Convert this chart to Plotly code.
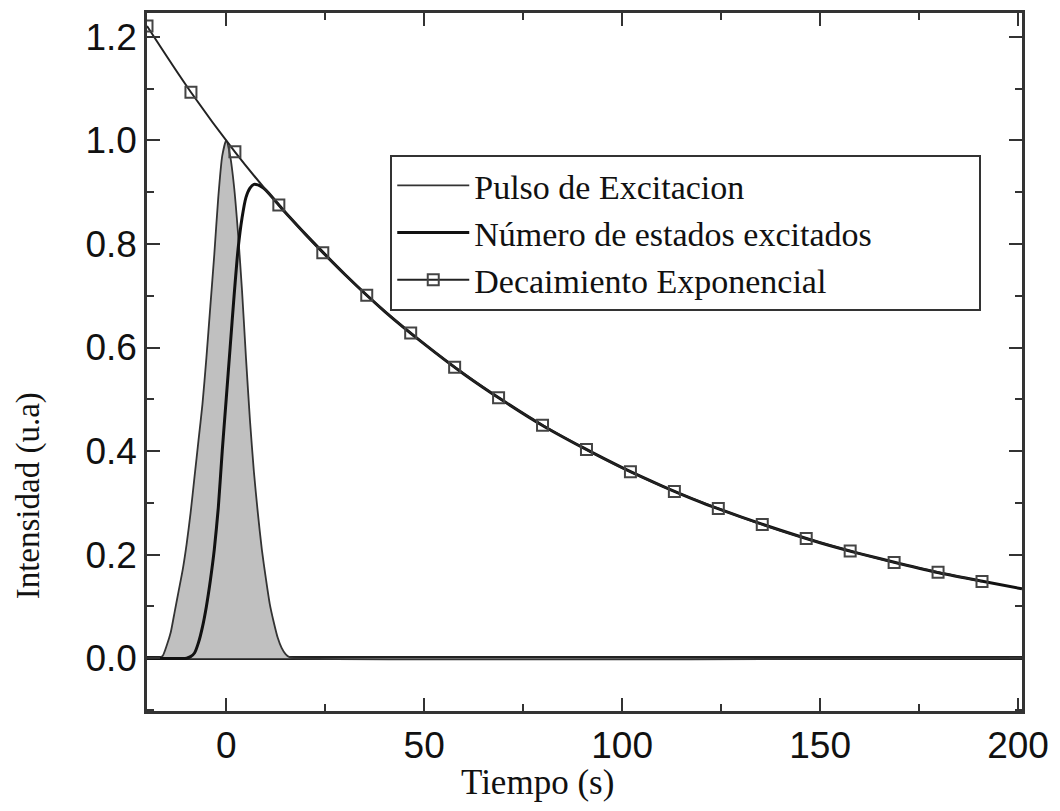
import plotly.graph_objects as go

# Pulse (excitation)
pulse_t = [-20, -17, -16, -15, -14, -13, -12, -11, -10, -9, -8, -7, -6, -5, -4, -3, -2, -1, 0,
           1, 2, 3, 4, 5, 6, 7, 8, 9, 10, 11, 12, 13, 14, 15, 16, 17, 201]
pulse_y = [0, 0, 0.005, 0.025, 0.05, 0.09, 0.13, 0.17, 0.22, 0.28, 0.35, 0.42, 0.49, 0.58, 0.68, 0.78, 0.89, 0.97, 1.0,
           0.97, 0.91, 0.82, 0.71, 0.58, 0.46, 0.36, 0.28, 0.21, 0.155, 0.105, 0.07, 0.04, 0.02, 0.008, 0.002, 0, 0]

# Number of excited states
states_t = [-20, -10, -9, -8, -7, -6, -5, -4, -3, -2, -1, 0, 1, 2, 3, 4, 5, 6, 7, 8, 9, 10, 12, 14, 16,
            20, 30, 40, 50, 60, 70, 80, 90, 100, 110, 120, 130, 140, 150, 160, 170, 180, 190, 201]
states_y = [0, 0, 0.003, 0.01, 0.03, 0.06, 0.1, 0.15, 0.21, 0.29, 0.4, 0.5, 0.6, 0.7, 0.79, 0.85, 0.89, 0.908,
            0.915, 0.914, 0.91, 0.904, 0.887, 0.869, 0.852,
            0.819, 0.741, 0.670, 0.607, 0.549, 0.497, 0.449, 0.407, 0.368, 0.333, 0.301, 0.273, 0.247, 0.223,
            0.202, 0.183, 0.165, 0.150, 0.134]

# Exponential decay with square markers
decay_t = [-20.0, -8.9, 2.2, 13.3, 24.4, 35.5, 46.6, 57.7, 68.8, 79.9, 91.0, 102.1, 113.2, 124.3, 135.4,
           146.5, 157.6, 168.7, 179.8, 190.9]
decay_y = [1.221, 1.093, 0.978, 0.875, 0.783, 0.701, 0.628, 0.562, 0.503, 0.450, 0.403, 0.360, 0.322,
           0.289, 0.258, 0.231, 0.207, 0.185, 0.166, 0.148]

x_ticks = [0, 50, 100, 150, 200]
y_ticks = [0.0, 0.2, 0.4, 0.6, 0.8, 1.0, 1.2]
y_labels = ["0.0", "0.2", "0.4", "0.6", "0.8", "1.0", "1.2"]

x_title = "Tiempo (s)"
y_title = "Intensidad (u.a)"

NBSP = "\u00a0"

fig = go.Figure()
# grey filled area under the pulse (no legend entry)
fig.add_trace(go.Scatter(x=pulse_t, y=pulse_y, mode="lines", showlegend=False, hoverinfo="skip",
                         line=dict(color="rgba(0,0,0,0)", width=0, shape="spline", smoothing=0.6),
                         fill="tozeroy", fillcolor="#c0c0c0"))
fig.add_trace(go.Scatter(x=pulse_t, y=pulse_y, mode="lines", name="Pulso de Excitacion",
                         line=dict(color="#333333", width=1.8, shape="spline", smoothing=0.6)))
fig.add_trace(go.Scatter(x=states_t, y=states_y, mode="lines",
                         name="Número de estados excitados" + NBSP * 12,
                         line=dict(color="#111111", width=3, shape="spline", smoothing=0.6)))
fig.add_trace(go.Scatter(x=decay_t, y=decay_y, mode="lines+markers", name="Decaimiento Exponencial",
                         line=dict(color="#222222", width=2, shape="spline"),
                         marker=dict(symbol="square-open", size=11, color="#444444",
                                     line=dict(width=2, color="#444444"))))

axis_common = dict(showline=True, linecolor="#333333", linewidth=2.5, mirror="allticks",
                   ticks="inside", ticklen=13, tickwidth=2, tickcolor="#333333", showgrid=False,
                   tickfont=dict(family="Liberation Sans", size=37, color="#111111"))

fig.update_xaxes(range=[-20, 201], tickvals=x_ticks,
                 minor=dict(ticks="inside", ticklen=7, tickwidth=2, tickcolor="#333333", dtick=25, tick0=0),
                 zeroline=False, **axis_common)
fig.update_yaxes(range=[-0.102, 1.246], tickvals=y_ticks, ticktext=y_labels,
                 minor=dict(ticks="inside", ticklen=7, tickwidth=2, tickcolor="#333333", dtick=0.1, tick0=0),
                 zeroline=True, zerolinecolor="#222222", zerolinewidth=3.5, **axis_common)

# axis titles placed as in the original (off-centre)
fig.add_annotation(text=x_title, xref="paper", yref="paper", x=0.446, y=-0.103,
                   xanchor="center", yanchor="middle", showarrow=False,
                   font=dict(family="Liberation Serif", size=35, color="#111111"))
fig.add_annotation(text=y_title, xref="paper", yref="paper", x=-0.136, y=0.309,
                   xanchor="center", yanchor="middle", showarrow=False, textangle=-90,
                   font=dict(family="Liberation Serif", size=33, color="#111111"))

fig.update_layout(width=1052, height=803, margin=dict(l=139, r=38, t=5, b=100, autoexpand=False),
                  plot_bgcolor="white", paper_bgcolor="white",
                  legend=dict(x=0.278, y=0.797, xanchor="left", yanchor="top",
                              bordercolor="#333333", borderwidth=2, bgcolor="white",
                              font=dict(family="Liberation Serif", size=34, color="#111111"),
                              itemwidth=72, tracegroupgap=0))

fig.write_html("out.html")
